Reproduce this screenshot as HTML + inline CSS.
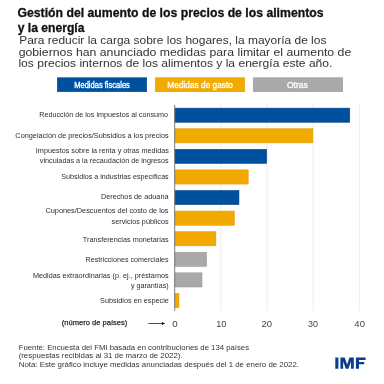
<!DOCTYPE html>
<html><head><meta charset="utf-8"><style>
html,body{margin:0;padding:0;background:#fff;width:384px;height:384px;overflow:hidden}
svg{display:block;font-family:"Liberation Sans",sans-serif;will-change:transform}
</style></head><body><svg width="384" height="384" viewBox="0 0 384 384" font-family="Liberation Sans, sans-serif"><rect x="57.25" y="77.75" width="89.5" height="14" fill="#0050a0" stroke="#0a3f82" stroke-width="0.5"/><rect x="155.25" y="77.75" width="89.5" height="14" fill="#f2aa00" stroke="#dd9c00" stroke-width="0.5"/><rect x="253.25" y="77.75" width="89.5" height="14" fill="#a9a9a9" stroke="#9a9a9a" stroke-width="0.5"/><rect x="220.30" y="104" width="1" height="207" fill="#ececec"/><rect x="266.50" y="104" width="1" height="207" fill="#ececec"/><rect x="312.70" y="104" width="1" height="207" fill="#ececec"/><rect x="358.80" y="104" width="1" height="207" fill="#ececec"/><rect x="174.85" y="108.10" width="174.95" height="14.2" fill="#0050a0" stroke="#0a3f82" stroke-width="0.5"/><rect x="174.85" y="128.69" width="138.01" height="14.2" fill="#f2aa00" stroke="#dd9c00" stroke-width="0.5"/><rect x="174.85" y="149.28" width="91.84" height="14.2" fill="#0050a0" stroke="#0a3f82" stroke-width="0.5"/><rect x="174.85" y="169.87" width="73.37" height="14.2" fill="#f2aa00" stroke="#dd9c00" stroke-width="0.5"/><rect x="174.85" y="190.46" width="64.14" height="14.2" fill="#0050a0" stroke="#0a3f82" stroke-width="0.5"/><rect x="174.85" y="211.05" width="59.52" height="14.2" fill="#f2aa00" stroke="#dd9c00" stroke-width="0.5"/><rect x="174.85" y="231.64" width="41.05" height="14.2" fill="#f2aa00" stroke="#dd9c00" stroke-width="0.5"/><rect x="174.85" y="252.23" width="31.82" height="14.2" fill="#a9a9a9" stroke="#9a9a9a" stroke-width="0.5"/><rect x="174.85" y="272.82" width="27.20" height="14.2" fill="#a9a9a9" stroke="#9a9a9a" stroke-width="0.5"/><rect x="174.85" y="293.41" width="4.12" height="14.2" fill="#f2aa00" stroke="#dd9c00" stroke-width="0.5"/><rect x="174.2" y="105" width="1" height="205.8" fill="#7a7a7a"/><line x1="148.4" y1="323.5" x2="162.5" y2="323.5" stroke="#222" stroke-width="0.8"/><path d="M161.9 322.1 L165.2 323.5 L161.9 324.9 Z" fill="#111"/><path fill="#0c3d8a" d="M335.3 357.4H338.4V368.7H335.3Z M340.4 368.7V357.4H344.7L347.1 364.4L349.5 357.4H353.8V368.7H351V361.2L348.5 368.7H345.7L343.2 361.2V368.7Z M355.9 357.4H365.6V360H359V361.9H364.2V364.3H359V368.7H355.9Z"/><text x="17.47" y="17.40" font-size="12.6" font-weight="bold" fill="#111111" stroke="#111" stroke-width="0.3" textLength="306.09" lengthAdjust="spacingAndGlyphs">Gestión del aumento de los precios de los alimentos</text><text x="17.69" y="31.70" font-size="12.6" font-weight="bold" fill="#111111" stroke="#111" stroke-width="0.3" textLength="66.79" lengthAdjust="spacingAndGlyphs">y la energía</text><text x="19.19" y="43.80" font-size="10.4" font-weight="normal" fill="#333333" textLength="307.23" lengthAdjust="spacingAndGlyphs">Para reducir la carga sobre los hogares, la mayoría de los</text><text x="18.68" y="55.90" font-size="10.4" font-weight="normal" fill="#333333" textLength="332.55" lengthAdjust="spacingAndGlyphs">gobiernos han anunciado medidas para limitar el aumento de</text><text x="18.42" y="67.40" font-size="10.4" font-weight="normal" fill="#333333" textLength="313.97" lengthAdjust="spacingAndGlyphs">los precios internos de los alimentos y la energía este año.</text><text x="39.29" y="116.70" font-size="7.3" font-weight="normal" fill="#2e2e2e" textLength="128.72" lengthAdjust="spacingAndGlyphs">Reducción de los impuestos al consumo</text><text x="15.37" y="137.60" font-size="7.3" font-weight="normal" fill="#2e2e2e" textLength="153.32" lengthAdjust="spacingAndGlyphs">Congelación de precios/Subsidios a los precios</text><text x="35.87" y="152.60" font-size="7.3" font-weight="normal" fill="#2e2e2e" textLength="132.97" lengthAdjust="spacingAndGlyphs">Impuestos sobre la renta y otras medidas</text><text x="39.86" y="163.30" font-size="7.3" font-weight="normal" fill="#2e2e2e" textLength="128.77" lengthAdjust="spacingAndGlyphs">vinculadas a la recaudación de ingresos</text><text x="61.30" y="178.70" font-size="7.3" font-weight="normal" fill="#2e2e2e" textLength="107.41" lengthAdjust="spacingAndGlyphs">Subsidios a industrias específicas</text><text x="100.92" y="198.50" font-size="7.3" font-weight="normal" fill="#2e2e2e" textLength="67.57" lengthAdjust="spacingAndGlyphs">Derechos de aduana</text><text x="45.45" y="213.10" font-size="7.3" font-weight="normal" fill="#2e2e2e" textLength="123.09" lengthAdjust="spacingAndGlyphs">Cupones/Descuentos  del costo de los</text><text x="111.57" y="224.10" font-size="7.3" font-weight="normal" fill="#2e2e2e" textLength="57.00" lengthAdjust="spacingAndGlyphs">servicios públicos</text><text x="82.83" y="242.10" font-size="7.3" font-weight="normal" fill="#2e2e2e" textLength="85.76" lengthAdjust="spacingAndGlyphs">Transferencias monetarias</text><text x="85.53" y="261.70" font-size="7.3" font-weight="normal" fill="#2e2e2e" textLength="83.14" lengthAdjust="spacingAndGlyphs">Restricciones comerciales</text><text x="32.97" y="277.50" font-size="7.3" font-weight="normal" fill="#2e2e2e" textLength="135.64" lengthAdjust="spacingAndGlyphs">Medidas extraordinarias (p. ej., préstamos</text><text x="130.90" y="287.70" font-size="7.3" font-weight="normal" fill="#2e2e2e" textLength="37.82" lengthAdjust="spacingAndGlyphs">y garantías)</text><text x="100.03" y="302.70" font-size="7.3" font-weight="normal" fill="#2e2e2e" textLength="68.92" lengthAdjust="spacingAndGlyphs">Subsidios en especie</text><text x="61.83" y="324.60" font-size="7.4" font-weight="normal" fill="#222222" stroke="#333" stroke-width="0.25" textLength="65.40" lengthAdjust="spacingAndGlyphs">(número de países)</text><text x="172.28" y="326.50" font-size="9.9" font-weight="normal" fill="#444444" textLength="5.38" lengthAdjust="spacingAndGlyphs">0</text><text x="216.28" y="326.50" font-size="9.9" font-weight="normal" fill="#444444" textLength="10.15" lengthAdjust="spacingAndGlyphs">10</text><text x="261.54" y="326.50" font-size="9.9" font-weight="normal" fill="#444444" textLength="10.58" lengthAdjust="spacingAndGlyphs">20</text><text x="308.07" y="326.50" font-size="9.9" font-weight="normal" fill="#444444" textLength="9.98" lengthAdjust="spacingAndGlyphs">30</text><text x="354.36" y="326.50" font-size="9.9" font-weight="normal" fill="#444444" textLength="10.62" lengthAdjust="spacingAndGlyphs">40</text><text x="18.71" y="349.60" font-size="6.9" font-weight="normal" fill="#333333" textLength="230.38" lengthAdjust="spacingAndGlyphs">Fuente: Encuesta del FMI basada en contribuciones de 134 países</text><text x="18.65" y="358.20" font-size="6.9" font-weight="normal" fill="#333333" textLength="163.99" lengthAdjust="spacingAndGlyphs">(respuestas recibidas al 31 de marzo de 2022).</text><text x="18.73" y="366.90" font-size="6.9" font-weight="normal" fill="#333333" textLength="280.27" lengthAdjust="spacingAndGlyphs">Nota: Este gráfico incluye medidas anunciadas después del 1 de enero de 2022.</text><text x="74.23" y="88.00" font-size="8.2" font-weight="normal" fill="#ffffff" stroke="#fff" stroke-width="0.3" textLength="55.62" lengthAdjust="spacingAndGlyphs">Medidas fiscales</text><text x="167.36" y="88.00" font-size="8.2" font-weight="normal" fill="#ffffff" stroke="#fff" stroke-width="0.3" textLength="65.60" lengthAdjust="spacingAndGlyphs">Medidas de gasto</text><text x="286.90" y="88.00" font-size="8.2" font-weight="normal" fill="#ffffff" stroke="#fff" stroke-width="0.3" textLength="21.00" lengthAdjust="spacingAndGlyphs">Otras</text></svg></body></html>
